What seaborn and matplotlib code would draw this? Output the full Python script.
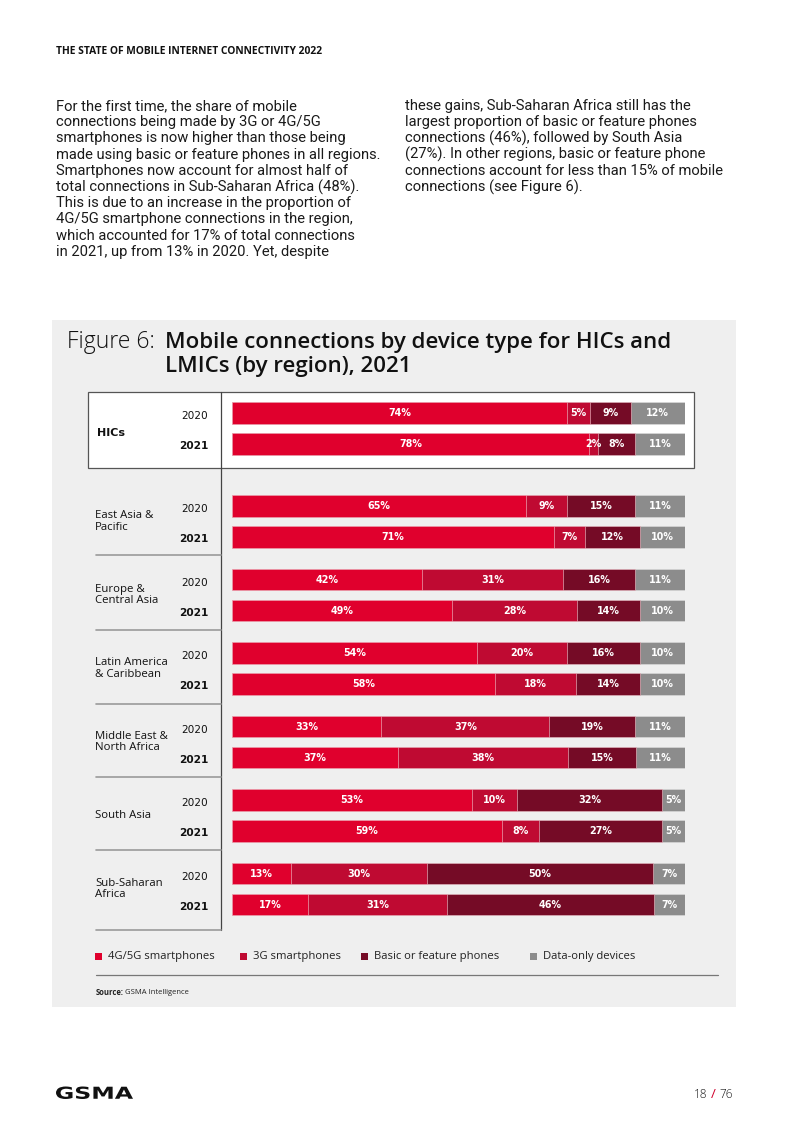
"""
Figure 6: Mobile connections by device type for HICs and LMICs (by region), 2021
Recreated page layout with a seaborn stacked horizontal bar chart.
"""

# ---------- Imports ----------
import numpy as np
import pandas as pd
import matplotlib
matplotlib.use("Agg")
import matplotlib.pyplot as plt
from matplotlib.patches import Rectangle, PathPatch
from matplotlib.textpath import TextPath
from matplotlib.font_manager import FontProperties
from matplotlib.transforms import Affine2D
import seaborn as sns

sns.set_theme(style="white")
plt.rcParams["font.family"] = ["Open Sans", "DejaVu Sans"]

# ---------- Data ----------
groups = ["HICs", "East Asia &\nPacific", "Europe &\nCentral Asia",
          "Latin America\n& Caribbean", "Middle East &\nNorth Africa",
          "South Asia", "Sub-Saharan\nAfrica"]
years = ["2020", "2021"]
series = ["4G/5G smartphones", "3G smartphones",
          "Basic or feature phones", "Data-only devices"]

# one value per (group, year), in the order of groups x years
smart_4g5g = [74, 78, 65, 71, 42, 49, 54, 58, 33, 37, 53, 59, 13, 17]
smart_3g = [5, 2, 9, 7, 31, 28, 20, 18, 37, 38, 10, 8, 30, 31]
basic = [9, 8, 15, 12, 16, 14, 16, 14, 19, 15, 32, 27, 50, 46]
data_only = [12, 11, 11, 10, 11, 10, 10, 10, 11, 11, 5, 5, 7, 7]

colors = ["#e0002d", "#bf0a32", "#750b26", "#8c8c8c"]

# ---------- Layout (page pixels) ----------
W, H = 793, 1122
group_y = [413] + [506 + 73.5 * i for i in range(6)]
row_step = 31
bar_left, bar_right = 232, 685

rows = []
for gi, g in enumerate(groups):
    for yi, yr in enumerate(years):
        rows.append({"group": g, "year": yr, "pos": group_y[gi] + yi * row_step})
df = pd.DataFrame(rows)
cols = ["s4g", "s3g", "basic", "data"]
for c, vals in zip(cols, [smart_4g5g, smart_3g, basic, data_only]):
    df[c] = vals
total = df[cols].sum(axis=1)
for k in range(4):
    df[f"cum{k}"] = df[cols[:k + 1]].sum(axis=1) / total * 100

fig = plt.figure(figsize=(W / 100, H / 100), dpi=100)
fig.patch.set_facecolor("white")

# decoration axes in page pixel units
dax = fig.add_axes([0, 0, 1, 1])
dax.set_xlim(0, W)
dax.set_ylim(H, 0)
dax.axis("off")

# header
dax.text(56, 51, "THE STATE OF MOBILE INTERNET CONNECTIVITY 2022", fontsize=7.4,
         fontweight="bold", va="center", ha="left", color="#111111")

# body text
left_lines = [
    "For the first time, the share of mobile",
    "connections being made by 3G or 4G/5G",
    "smartphones is now higher than those being",
    "made using basic or feature phones in all regions.",
    "Smartphones now account for almost half of",
    "total connections in Sub-Saharan Africa (48%).",
    "This is due to an increase in the proportion of",
    "4G/5G smartphone connections in the region,",
    "which accounted for 17% of total connections",
    "in 2021, up from 13% in 2020. Yet, despite",
]
right_lines = [
    "these gains, Sub-Saharan Africa still has the",
    "largest proportion of basic or feature phones",
    "connections (46%), followed by South Asia",
    "(27%). In other regions, basic or feature phone",
    "connections account for less than 15% of mobile",
    "connections (see Figure 6).",
]
body_font = ["Roboto", "DejaVu Sans"]
for i, line in enumerate(left_lines):
    dax.text(56, 106 + i * 16.2, line, fontsize=10.6, family=body_font,
             va="center", ha="left", color="#1a1a1a")
for i, line in enumerate(right_lines):
    dax.text(405, 106 + i * 16.2, line, fontsize=10.6, family=body_font,
             va="center", ha="left", color="#1a1a1a")

# grey chart panel
dax.add_patch(Rectangle((52, 320), 684, 687, facecolor="#efefef", edgecolor="none", zorder=0))

# title
dax.text(67, 342, "Figure 6:", fontsize=16.5, fontweight="light", va="center", ha="left",
         color="#111111")
dax.text(165, 342, "Mobile connections by device type for HICs and", fontsize=16,
         fontweight="semibold", va="center", ha="left", color="#111111")
dax.text(165, 366, "LMICs (by region), 2021", fontsize=16,
         fontweight="semibold", va="center", ha="left", color="#111111")

# HICs white box
dax.add_patch(Rectangle((88, 392), 606, 76, facecolor="white", edgecolor="#555555",
                        linewidth=0.9, zorder=1))
# vertical divider and group separators
dax.plot([221, 221], [392, 930], color="#444444", lw=0.9, zorder=2)
for sy in [555, 630, 704, 777, 850, 930]:
    dax.plot([96, 221], [sy, sy], color="#9a9a9a", lw=1.2, zorder=2)

# group and year labels
for gi, g in enumerate(groups):
    gy = group_y[gi] + row_step / 2
    if g == "HICs":
        dax.text(97, gy + 4, g, fontsize=8, fontweight="bold", family=["DejaVu Sans"],
                 va="center", ha="left", color="#111111", zorder=3)
    else:
        dax.text(95, gy, g, fontsize=8.2, va="center", ha="left", linespacing=1.12,
                 color="#111111", zorder=3)
    for yi, yr in enumerate(years):
        dax.text(208, group_y[gi] + yi * row_step + 3 - yi, yr, fontsize=7.6,
                 family=["DejaVu Sans"], fontweight="bold" if yi == 1 else "normal",
                 va="center", ha="right", color="#111111", zorder=3)

# legend
leg_x = [98, 243, 364, 533]
for lx, name, c in zip(leg_x, series, colors):
    dax.add_patch(Rectangle((lx - 3.5, 952.5), 7, 7, facecolor=c, edgecolor="none", zorder=3))
    dax.text(lx + 10, 956, name, fontsize=8.1, va="center", ha="left", color="#222222",
             zorder=3)
dax.plot([96, 718], [975, 975], color="#777777", lw=0.9, zorder=2)

# source
dax.text(96, 992, "Source:", fontsize=5.5, fontweight="bold", va="center", ha="left",
         color="#222222")
dax.text(125, 992, "GSMA Intelligence", fontsize=5.5, va="center", ha="left",
         color="#222222")

# footer: wide GSMA wordmark drawn as a stretched text path
logo = TextPath((0, 0), "GSMA", size=1, prop=FontProperties(family="DejaVu Sans",
                                                            weight="bold"))
ext = logo.get_extents()
sx = 77 / ext.width
sy = 12.5 / ext.height
logo_tf = Affine2D().translate(-ext.x0, -ext.y0).scale(sx, -sy).translate(56, 1099)
dax.add_patch(PathPatch(logo_tf.transform_path(logo), facecolor="#111111",
                        edgecolor="none", zorder=3))
dax.text(707, 1094, "18", fontsize=8.5, fontweight="light", va="center", ha="right",
         color="#111111")
dax.text(713.5, 1094, "/", fontsize=9.5, va="center", ha="center", color="#d0002c")
dax.text(719, 1094, "76", fontsize=8.5, fontweight="light", va="center", ha="left",
         color="#111111")

# ---------- Bars ----------
bax = fig.add_axes([bar_left / W, 0, (bar_right - bar_left) / W, 1])
bax.patch.set_alpha(0)
for k in reversed(range(4)):
    sns.barplot(data=df, x=f"cum{k}", y="pos", orient="y", native_scale=True,
                color=colors[k], saturation=1, width=0.68, errorbar=None,
                edgecolor="#f2c9d0" if k < 3 else "#dddddd", linewidth=0.4, ax=bax)
bax.set_xlim(0, 100)
bax.set_ylim(H, 0)
bax.axis("off")

# segment value labels
for _, r in df.iterrows():
    prev = 0
    for k, c in enumerate(cols):
        cur = r[f"cum{k}"]
        bax.text((prev + cur) / 2, r["pos"], f"{r[c]}%", fontsize=6.9, fontweight="bold",
                 family=["DejaVu Sans"], color="white", ha="center", va="center")
        prev = cur

fig.savefig("out.png", dpi=100, facecolor="white")
